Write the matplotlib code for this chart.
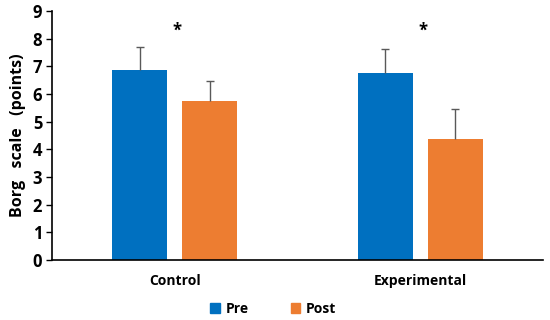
import matplotlib
matplotlib.use('Agg')
import matplotlib.pyplot as plt
import numpy as np
from matplotlib.patches import Patch

plt.rcParams['font.family'] = ['Open Sans', 'DejaVu Sans']
plt.rcParams['font.weight'] = 'bold'

groups = ['Control', 'Experimental']
pre_mean = [6.88, 6.76]
pre_sd = [0.83, 0.88]
post_mean = [5.75, 4.38]
post_sd = [0.72, 1.06]
sig_labels = ['*', '*']

BLUE = '#0070C0'
ORANGE = '#ED7D31'

fig = plt.figure(figsize=(5.5, 3.2), dpi=100)
ax = fig.add_axes([0.0945, 0.188, 0.893, 0.778])

x = np.arange(len(groups))
w = 0.224
off = 0.1426

ax.bar(x - off, pre_mean, w, color=BLUE, label='Pre')
ax.bar(x + off, post_mean, w, color=ORANGE, label='Post')

# upper-only error bars, no cap at the bar top
for xs, m, sd in [(x - off, pre_mean, pre_sd), (x + off, post_mean, post_sd)]:
    eb = ax.errorbar(xs, m, yerr=[np.zeros(len(sd)), sd], fmt='none',
                     ecolor='#595959', elinewidth=1.0, capsize=3, capthick=1.0)
    caps = eb.lines[1]
    caps[0].set_visible(False)

for xi, s in zip(x, sig_labels):
    ax.text(xi + 0.01, 8.3, s, ha='center', va='center', fontsize=12, fontweight='bold')

ax.set_xlim(-0.5, 1.5)
ax.set_ylim(0, 9)
ax.set_yticks(range(10))
ax.set_xticks(x)
ax.set_xticklabels(groups, fontsize=10, fontweight='bold')
ax.tick_params(axis='x', length=0, pad=10)
ax.tick_params(axis='y', labelsize=12, length=4, width=1, pad=3)
for lab in ax.get_yticklabels():
    lab.set_fontweight('bold')
ax.set_ylabel('Borg   scale   (points)', fontsize=11.5, fontweight='bold', labelpad=5)

ax.spines['top'].set_visible(False)
ax.spines['right'].set_visible(False)
ax.spines['left'].set_linewidth(1.2)
ax.spines['bottom'].set_linewidth(1.2)

handles = [Patch(color=BLUE, label='Pre'), Patch(color=ORANGE, label='Post')]
fig.legend(handles=handles, loc='center', bbox_to_anchor=(0.497, 0.035), ncol=2,
           frameon=False, fontsize=10, handlelength=0.7, handleheight=0.7,
           handletextpad=0.4, columnspacing=3.0)

plt.savefig('out.png', dpi=100)
plt.close()
